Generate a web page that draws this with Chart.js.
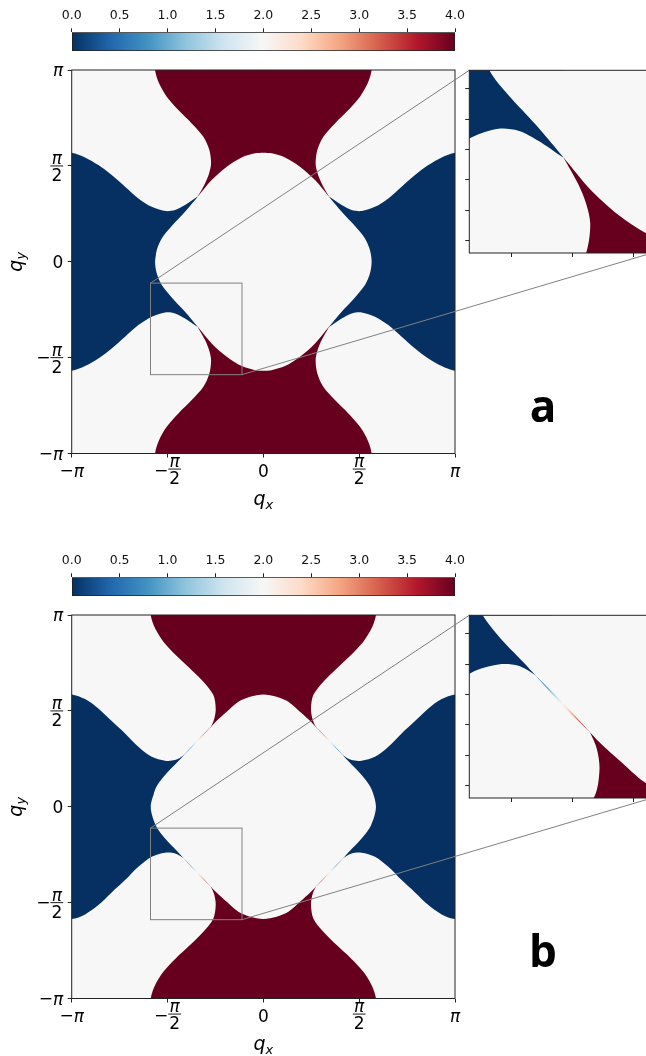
<!DOCTYPE html>
<html>
<head>
<meta charset="utf-8">
<script src="https://cdn.jsdelivr.net/npm/chart.js@4.4.1/dist/chart.umd.min.js"></script>
<style>
  html, body { margin: 0; padding: 0; background: #fff; }
  body { width: 646px; height: 1056px; overflow: hidden; position: relative; }
  .panel { position: absolute; left: 0; width: 700px; height: 545px; }
  .panel canvas { position: absolute; left: 0; top: 0; }
</style>
</head>
<body>
<div class="panel" style="top:0px">
  <canvas id="main_a" width="646" height="545"></canvas>
  <canvas id="inset_a" width="700" height="545"></canvas>
  <canvas id="cbar_a" width="646" height="545"></canvas>
</div>
<div class="panel" style="top:545px">
  <canvas id="main_b" width="646" height="545"></canvas>
  <canvas id="inset_b" width="700" height="545"></canvas>
  <canvas id="cbar_b" width="646" height="545"></canvas>
</div>
<script>
const PI = Math.PI;

// colour bar (RdBu), values 0..4
const cbarStops = ['#053061', '#2166ac', '#4393c3', '#92c5de', '#d1e5f0', '#f7f7f7',
                   '#fddbc7', '#f4a582', '#d6604d', '#b2182b', '#67001f'];
const cbarTicks = [0, 0.5, 1, 1.5, 2, 2.5, 3, 3.5, 4];

// axes ticks
const piTickValues = [-PI, -PI / 2, 0, PI / 2, PI];
const piTickLabels = ['−π', '−π/2', '0', 'π/2', 'π'];
const zoomRange = [-1.85, -0.35];
const insetXTicks = [-1.5, -1.0, -0.5];
const insetYTicks = [-1.75, -1.5, -1.25, -1.0, -0.75, -0.5];

// region boundaries read off the upper-left quadrant (qx, qy); the rest follows by symmetry
// (a) lobe edge bordering the red region, from qy = pi down to the touching point
const lobeRightA = [[-1.775, PI], [-1.71, 2.923], [-1.584, 2.705], [-1.393, 2.486], [-1.174, 2.267],
                    [-0.983, 2.049], [-0.885, 1.83], [-0.857, 1.61], [-0.89, 1.447], [-0.956, 1.284],
                    [-1.076, 1.068]];
// (a) lobe edge bordering the blue region, from qx = -pi to the touching point
const lobeBottomA = [[-PI, 1.787], [-2.923, 1.71], [-2.705, 1.584], [-2.486, 1.42], [-2.267, 1.229],
                     [-2.049, 1.038], [-1.83, 0.9], [-1.611, 0.83], [-1.447, 0.846], [-1.284, 0.928],
                     [-1.076, 1.068]];
// (a) central diamond, from the left corner to the top corner
const diamondA = [[-1.775, 0], [-1.748, 0.19], [-1.666, 0.382], [-1.502, 0.584], [-1.284, 0.819],
                  [-1.076, 1.065], [-0.847, 1.338], [-0.6, 1.557], [-0.355, 1.71], [-0.136, 1.776],
                  [0, 1.787]];
const fadeA = [];

// (b) lobe edges run on a little under the diamond, which is painted over them
const lobeRightB = [[-1.846, PI], [-1.775, 2.923], [-1.639, 2.705], [-1.437, 2.486], [-1.202, 2.267],
                    [-0.983, 2.049], [-0.819, 1.83], [-0.781, 1.611], [-0.803, 1.447], [-0.86, 1.31],
                    [-0.95, 1.17]];
const lobeBottomB = [[-PI, 1.841], [-2.923, 1.764], [-2.705, 1.611], [-2.486, 1.404], [-2.267, 1.202],
                     [-2.049, 0.983], [-1.83, 0.819], [-1.611, 0.754], [-1.447, 0.764], [-1.31, 0.84],
                     [-1.17, 0.95]];
const diamondB = [[-1.846, 0], [-1.764, 0.306], [-1.611, 0.519], [-1.404, 0.737], [-1.202, 0.956],
                  [-0.983, 1.174], [-0.781, 1.393], [-0.6, 1.557], [-0.41, 1.721], [-0.218, 1.803],
                  [0, 1.841]];
// (b) thin faded strip joining the blue tip to the red tip
const fadeB = [[-1.31, 0.84], [-1.092, 1.085], [-0.86, 1.31], [-1.075, 1.072]];

const blueColor = cbarStops[0];    // value 0
const whiteColor = cbarStops[5];   // value 2
const redColor = cbarStops[10];    // value 4
const TICK_SIZE = 17;
const FONT = '"DejaVu Sans"';

// page layout (pixels inside a 545px tall panel)
const MAIN = { left: 71.7, top: 70, right: 455, bottom: 453.5 };
const INSET = { left: 469.3, top: 70.3, right: 652, bottom: 253 };
const CBAR = { left: 71.7, top: 32.3, right: 455, bottom: 51 };

const fx = p => [-p[0], p[1]];
const fy = p => [p[0], -p[1]];
const fxy = p => [-p[0], -p[1]];

function buildRegions(lobeRight, lobeBottom, diamond, fade) {
  const out = 3.5;
  const redTop = [...lobeRight.slice().reverse(), [lobeRight[0][0], out], [-lobeRight[0][0], out],
                  ...lobeRight.map(fx)];
  const blueLeft = [...lobeBottom.slice().reverse(), [-out, lobeBottom[0][1]], [-out, -lobeBottom[0][1]],
                    ...lobeBottom.map(fy)];
  const loop = [...diamond, ...diamond.slice(0, -1).reverse().map(fx), ...diamond.slice(1).map(fxy),
                ...diamond.slice(1, -1).reverse().map(fy), diamond[0], diamond[1]];
  const list = [];
  if (fade.length) {
    [p => p, fx, fy, fxy].forEach(f => list.push({ pts: fade.map(f), color: 'fade' }));
  }
  list.push({ pts: loop, color: whiteColor });
  list.push({ pts: redTop, color: redColor });
  list.push({ pts: redTop.map(fy), color: redColor });
  list.push({ pts: blueLeft, color: blueColor });
  list.push({ pts: blueLeft.map(fx), color: blueColor });
  return list;
}

function fadeGradient(c) {
  const chart = c.chart, ds = c.dataset;
  const sx = chart.scales.x, sy = chart.scales.y;
  if (!sx || !sy || !ds) return whiteColor;
  const p0 = ds.data[0], p1 = ds.data[2];
  const x0 = sx.getPixelForValue(p0.x), y0 = sy.getPixelForValue(p0.y);
  const x1 = sx.getPixelForValue(p1.x), y1 = sy.getPixelForValue(p1.y);
  if (![x0, y0, x1, y1].every(isFinite)) return whiteColor;
  const g = chart.ctx.createLinearGradient(x0, y0, x1, y1);
  cbarStops.forEach((col, i) => g.addColorStop(i / (cbarStops.length - 1), col));
  return g;
}

function regionDatasets(regions) {
  return regions.map(r => ({
    data: r.pts.map(p => ({ x: p[0], y: p[1] })),
    fill: 'shape',
    backgroundColor: r.color === 'fade' ? fadeGradient : r.color,
    borderWidth: 0,
    pointRadius: 0,
    tension: r.color === 'fade' ? 0 : 0.3
  }));
}

function fixedTicks(values) {
  return s => { s.ticks = values.map(v => ({ value: v })); };
}

function drawPiTick(ctx, label, ax, ay, side) {
  const size = TICK_SIZE;
  const neg = label[0] === '−';
  const body = neg ? label.slice(1) : label;
  const [num, den] = body.split('/');
  const upright = size + 'px ' + FONT;
  const slanted = 'italic ' + size + 'px ' + FONT;
  const fontOf = s => (s === 'π' ? slanted : upright);
  ctx.font = upright;
  const wMinus = neg ? ctx.measureText('−').width : 0;
  ctx.font = fontOf(num);
  const wNum = ctx.measureText(num).width;
  let wDen = 0;
  if (den) { ctx.font = fontOf(den); wDen = ctx.measureText(den).width; }
  const wBody = den ? Math.max(wNum, wDen) + 2 : wNum;
  const total = wMinus + wBody;
  const x0 = side === 'x' ? ax - total / 2 : ax - total;
  ctx.textAlign = 'left';
  ctx.textBaseline = 'alphabetic';
  ctx.fillStyle = '#000';
  if (neg) { ctx.font = upright; ctx.fillText('−', x0, ay + 0.3 * size); }
  const cx = x0 + wMinus + wBody / 2;
  ctx.textAlign = 'center';
  if (!den) {
    ctx.font = fontOf(num);
    ctx.fillText(num, cx, ay + 0.36 * size);
    return;
  }
  const barY = side === 'x' ? ay - 1.5 : ay;
  ctx.fillRect(x0 + wMinus, barY - 0.4, wBody, 0.9);
  ctx.font = fontOf(num);
  ctx.fillText(num, cx, barY - 1.8);
  ctx.font = fontOf(den);
  ctx.fillText(den, cx, barY + 3 + 0.73 * size);
}

const panelDecor = {
  id: 'panelDecor',
  beforeDatasetsDraw(chart) {
    const { ctx, chartArea: a } = chart;
    ctx.save();
    ctx.fillStyle = whiteColor;
    ctx.fillRect(a.left, a.top, a.right - a.left, a.bottom - a.top);
    ctx.restore();
  },
  afterDraw(chart, args, opts) {
    const { ctx, chartArea: a, scales: { x, y } } = chart;
    ctx.save();
    ctx.strokeStyle = '#222';
    ctx.lineWidth = 1;
    ctx.strokeRect(a.left, a.top, a.right - a.left, a.bottom - a.top);
    if (!opts.main) { ctx.restore(); return; }

    // zoom box + connectors to the inset
    const bx0 = x.getPixelForValue(zoomRange[0]), bx1 = x.getPixelForValue(zoomRange[1]);
    const by0 = y.getPixelForValue(zoomRange[1]), by1 = y.getPixelForValue(zoomRange[0]);
    ctx.strokeStyle = '#808080';
    ctx.strokeRect(bx0, by0, bx1 - bx0, by1 - by0);
    ctx.beginPath();
    ctx.moveTo(bx0, by0); ctx.lineTo(INSET.left, INSET.top);
    ctx.moveTo(bx1, by1); ctx.lineTo(INSET.right, INSET.bottom);
    ctx.stroke();

    // tick labels
    piTickValues.forEach((v, i) => {
      drawPiTick(ctx, piTickLabels[i], x.getPixelForValue(v), a.bottom + 17, 'x');
      drawPiTick(ctx, piTickLabels[i], a.left - 8.5, y.getPixelForValue(v), 'y');
    });

    // axis titles
    ctx.fillStyle = '#000';
    ctx.textBaseline = 'alphabetic';
    const qx = (a.left + a.right) / 2;
    ctx.font = 'italic 19px ' + FONT;
    const wq = ctx.measureText('q').width;
    ctx.font = 'italic 13px ' + FONT;
    const ws = ctx.measureText('x').width;
    ctx.textAlign = 'left';
    ctx.font = 'italic 19px ' + FONT;
    ctx.fillText('q', qx - (wq + ws) / 2, 505);
    ctx.font = 'italic 13px ' + FONT;
    ctx.fillText('x', qx - (wq + ws) / 2 + wq, 508.5);

    ctx.save();
    ctx.translate(21.5, (a.top + a.bottom) / 2);
    ctx.rotate(-PI / 2);
    ctx.font = 'italic 19px ' + FONT;
    ctx.fillText('q', -(wq + ws) / 2, 0);
    ctx.font = 'italic 13px ' + FONT;
    ctx.fillText('y', -(wq + ws) / 2 + wq, 3.5);
    ctx.restore();

    // panel letter
    ctx.font = 'bold 44px "Open Sans"';
    ctx.textAlign = 'center';
    ctx.fillText(opts.letter, 543, 422);
    ctx.restore();
  }
};

function squareAxis(pos, min, max, ticks, isX) {
  return {
    type: 'linear', position: pos, min: min, max: max,
    afterBuildTicks: fixedTicks(ticks),
    afterFit: s => { if (isX) s.height = 0; else s.width = 0; },
    ticks: { display: false },
    grid: { display: true, drawOnChartArea: false, drawTicks: true, tickLength: 4,
            tickColor: '#222', tickWidth: 1 },
    border: { display: false }
  };
}

function makeSquare(id, regions, area, canvasW, range, xt, yt, decor) {
  new Chart(document.getElementById(id), {
    type: 'line',
    data: { datasets: regionDatasets(regions) },
    plugins: [panelDecor],
    options: {
      responsive: false,
      animation: false,
      events: [],
      layout: { padding: { left: area.left, top: area.top, right: canvasW - area.right,
                           bottom: 545 - area.bottom } },
      elements: { line: { capBezierPoints: false } },
      plugins: { legend: { display: false }, tooltip: { enabled: false }, panelDecor: decor },
      scales: {
        x: squareAxis('bottom', range[0], range[1], xt, true),
        y: squareAxis('left', range[0], range[1], yt, false)
      }
    }
  });
}

function cbarGradient(c) {
  const a = c.chart.chartArea;
  if (!a || !isFinite(a.left) || !isFinite(a.right) || a.right <= a.left) return whiteColor;
  const g = c.chart.ctx.createLinearGradient(a.left, 0, a.right, 0);
  cbarStops.forEach((col, i) => g.addColorStop(i / (cbarStops.length - 1), col));
  return g;
}

function makeColorbar(id) {
  new Chart(document.getElementById(id), {
    type: 'bar',
    data: {
      labels: ['cbar'],
      datasets: [{
        data: [[cbarTicks[0], cbarTicks[cbarTicks.length - 1]]],
        backgroundColor: cbarGradient,
        borderColor: '#222',
        borderWidth: 1,
        borderSkipped: false,
        barPercentage: 1,
        categoryPercentage: 1
      }]
    },
    options: {
      indexAxis: 'y',
      responsive: false,
      animation: false,
      events: [],
      layout: { padding: { left: CBAR.left, top: 0, right: 646 - CBAR.right, bottom: 545 - CBAR.bottom } },
      plugins: { legend: { display: false }, tooltip: { enabled: false } },
      scales: {
        x: {
          type: 'linear', position: 'top',
          min: cbarTicks[0], max: cbarTicks[cbarTicks.length - 1],
          afterBuildTicks: fixedTicks(cbarTicks),
          afterFit: s => { s.height = CBAR.top; },
          ticks: { callback: v => v.toFixed(1), color: '#111', padding: 5, maxRotation: 0, autoSkip: false,
                   font: { family: 'DejaVu Sans', size: 12.5 } },
          grid: { drawOnChartArea: false, tickLength: 4, tickColor: '#222' },
          border: { display: false }
        },
        y: { display: false }
      }
    }
  });
}

const regionsA = buildRegions(lobeRightA, lobeBottomA, diamondA, fadeA);
const regionsB = buildRegions(lobeRightB, lobeBottomB, diamondB, fadeB);

makeSquare('main_a', regionsA, MAIN, 646, [-PI, PI], piTickValues, piTickValues, { main: true, letter: 'a' });
makeSquare('inset_a', regionsA, INSET, 700, zoomRange, insetXTicks, insetYTicks, { main: false });
makeColorbar('cbar_a');

makeSquare('main_b', regionsB, MAIN, 646, [-PI, PI], piTickValues, piTickValues, { main: true, letter: 'b' });
makeSquare('inset_b', regionsB, INSET, 700, zoomRange, insetXTicks, insetYTicks, { main: false });
makeColorbar('cbar_b');
</script>
</body>
</html>
